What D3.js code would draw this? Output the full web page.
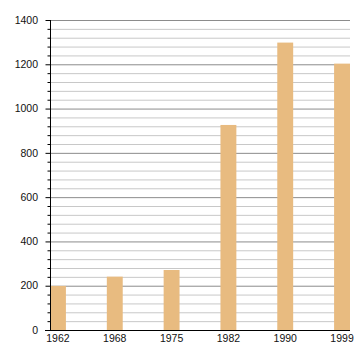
<!DOCTYPE html>
<html><head><meta charset="utf-8">
<script src="https://cdn.jsdelivr.net/npm/d3@7"></script>
<style>body{margin:0;background:#fff}svg{display:block}text{font-family:"Liberation Sans",Arial,sans-serif;font-size:10.5px;fill:#111}</style>
</head><body><svg id="c" width="360" height="360"></svg>
<script>
const years = ["1962","1968","1975","1982","1990","1999"];
const values = [199, 241, 271, 926, 1298, 1203];
const yMajorTicks = [0,200,400,600,800,1000,1200,1400];

const svg = d3.select("#c");
const L=50, R=350, T=20, B=330;
const x = d3.scaleBand().domain(years).range([L,R]).paddingInner(0.72).paddingOuter(0);
const y = d3.scaleLinear().domain([0,1400]).range([B,T]);
const minor = d3.range(0,1401,40).filter(v=>v%200!==0);

svg.append("g").selectAll("line").data(minor).join("line")
  .attr("x1",L).attr("x2",R).attr("y1",d=>y(d)+0.5).attr("y2",d=>y(d)+0.5)
  .attr("stroke","#c8c8c8").attr("stroke-width",1);
svg.append("g").selectAll("line").data(yMajorTicks.filter(v=>v>0)).join("line")
  .attr("x1",L).attr("x2",R).attr("y1",d=>y(d)+0.5).attr("y2",d=>y(d)+0.5)
  .attr("stroke","#8c8c8c").attr("stroke-width",1);

svg.append("g").selectAll("rect").data(values).join("rect")
  .attr("x",(d,i)=>x(years[i])).attr("width",x.bandwidth())
  .attr("y",d=>y(d)).attr("height",d=>B-y(d)).attr("fill","#e8bb80");

// y axis
const ya = svg.append("g");
ya.append("line").attr("x1",L+0.5).attr("x2",L+0.5).attr("y1",T).attr("y2",B).attr("stroke","#000");
ya.selectAll(".mn").data(minor).join("line").attr("class","mn")
  .attr("x1",L-2.5).attr("x2",L).attr("y1",d=>y(d)+0.5).attr("y2",d=>y(d)+0.5).attr("stroke","#000");
ya.selectAll(".mj").data(yMajorTicks).join("line").attr("class","mj")
  .attr("x1",L-4.5).attr("x2",L).attr("y1",d=>y(d)+0.5).attr("y2",d=>y(d)+0.5).attr("stroke","#000");
ya.selectAll("text").data(yMajorTicks).join("text")
  .attr("x",L-12).attr("y",d=>y(d)).attr("dy","0.35em").attr("text-anchor","end").text(d=>d);

// x axis
svg.append("line").attr("x1",L-5).attr("x2",R).attr("y1",B+0.5).attr("y2",B+0.5).attr("stroke","#000");
svg.append("g").selectAll("text").data(years).join("text")
  .attr("x",d=>x(d)+x.bandwidth()/2).attr("y",B+12).attr("text-anchor","middle").text(d=>d);
</script></body></html>
